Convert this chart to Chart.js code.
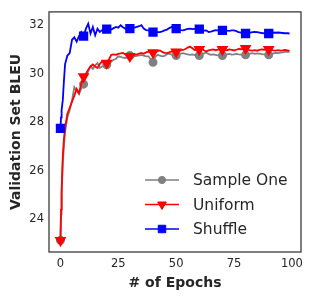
<!DOCTYPE html>
<html>
<head>
<meta charset="utf-8">
<script src="https://cdn.jsdelivr.net/npm/chart.js@4/dist/chart.umd.min.js"></script>
<style>
  html, body { margin: 0; padding: 0; background: #fff; }
  #wrap { width: 313px; height: 300px; }
</style>
</head>
<body>
<div id="wrap"><canvas id="bleuChart" width="313" height="300"></canvas></div>
<script>
// epochs (early part sampled finer)
var epochs = [0, 0.25, 0.5, 1, 1.5, 2, 3, 4, 5, 6, 7, 8, 9,
  10, 11, 12, 13, 14, 15, 16, 17, 18, 19, 20, 21, 22, 23, 24, 25, 26, 27, 28, 29,
  30, 31, 32, 33, 34, 35, 36, 37, 38, 39, 40, 41, 42, 43, 44, 45, 46, 47, 48, 49,
  50, 51, 52, 53, 54, 55, 56, 57, 58, 59, 60, 61, 62, 63, 64, 65, 66, 67, 68, 69,
  70, 71, 72, 73, 74, 75, 76, 77, 78, 79, 80, 81, 82, 83, 84, 85, 86, 87, 88, 89,
  90, 91, 92, 93, 94, 95, 96, 97, 98, 99];

var sampleOne = [23.13, 24.2, 25.0, 26.3, 27.0, 27.6, 28.2, 28.5, 28.9, 29.45, 29.3, 29.16, 29.4,
  29.57, 29.9, 30.1, 30.31, 30.2, 30.35, 30.44, 30.24, 30.3, 30.34, 30.37, 30.44, 30.5, 30.58, 30.62, 30.72, 30.7, 30.66, 30.65, 30.7,
  30.75, 30.7, 30.72, 30.74, 30.76, 30.78, 30.75, 30.72, 30.72, 30.6, 30.47, 30.7, 30.78, 30.75, 30.72, 30.74, 30.8, 30.83, 30.79, 30.76,
  30.75, 30.8, 30.83, 30.85, 30.82, 30.8, 30.78, 30.8, 30.77, 30.75, 30.75, 30.8, 30.84, 30.87, 30.82, 30.78, 30.8, 30.78, 30.76, 30.75,
  30.75, 30.78, 30.8, 30.82, 30.79, 30.8, 30.82, 30.8, 30.79, 30.78, 30.78, 30.8, 30.83, 30.85, 30.82, 30.84, 30.83, 30.81, 30.8, 30.79,
  30.78, 30.8, 30.84, 30.86, 30.85, 30.87, 30.88, 30.9, 30.91, 30.9];

var uniform = [23.13, 24.4, 25.2, 26.6, 27.3, 27.8, 28.35, 28.6, 28.85, 29.1, 29.37, 29.2, 29.6,
  29.88, 30.0, 30.17, 30.3, 30.38, 30.3, 30.24, 30.4, 30.51, 30.47, 30.44, 30.6, 30.78, 30.8, 30.78, 30.82, 30.84, 30.86, 30.8, 30.74,
  30.72, 30.76, 30.78, 30.8, 30.83, 30.86, 30.82, 30.88, 30.91, 30.9, 30.87, 30.9, 30.93, 30.96, 30.9, 30.86, 30.85, 30.88, 30.92, 30.9,
  30.9, 30.93, 30.97, 30.98, 31.02, 31.08, 31.12, 31.05, 30.98, 30.99, 31.0, 31.04, 30.97, 30.92, 30.96, 30.98, 31.0, 30.97, 30.99, 31.01,
  31.0, 30.98, 30.97, 31.0, 30.98, 30.96, 30.99, 31.02, 31.01, 31.03, 31.05, 31.0, 30.96, 30.95, 30.97, 30.95, 30.98, 31.0, 30.99, 31.01,
  31.0, 30.98, 30.96, 30.95, 30.97, 30.95, 30.96, 30.98, 30.96, 30.94];

var shuffle = [27.75, 28.2, 28.5, 28.9, 29.7, 30.4, 30.75, 30.85, 31.4, 31.5, 31.32, 31.55, 31.72,
  31.55, 31.86, 32.06, 31.66, 31.93, 31.59, 31.86, 31.72, 31.8, 31.79, 31.84, 31.86, 31.82, 31.88, 31.93, 31.9, 32.0, 31.92, 31.86, 31.84,
  31.86, 31.88, 31.9, 31.93, 31.96, 32.0, 31.86, 31.8, 31.79, 31.75, 31.72, 31.73, 31.72, 31.72, 31.75, 31.79, 31.82, 31.88, 31.93, 31.88,
  31.86, 31.84, 31.8, 31.79, 31.82, 31.85, 31.86, 31.84, 31.85, 31.86, 31.84, 31.8, 31.78, 31.79, 31.72, 31.74, 31.77, 31.8, 31.79, 31.78,
  31.79, 31.8, 31.78, 31.77, 31.79, 31.79, 31.76, 31.72, 31.7, 31.68, 31.66, 31.68, 31.7, 31.72, 31.73, 31.72, 31.7, 31.68, 31.67, 31.66,
  31.66, 31.68, 31.7, 31.69, 31.7, 31.69, 31.68, 31.67, 31.67, 31.66];

var xTicks = [0, 25, 50, 75, 100];
var yTicks = [24, 26, 28, 30, 32];

var font = "'DejaVu Sans', sans-serif";

function toPoints(values) {
    return values.map(function(v, i) { return { x: epochs[i], y: v }; });
}

// marker every 10 epochs
function markerSize(r) {
    return function(ctx) {
        return epochs[ctx.dataIndex] % 10 === 0 ? r : 0;
    };
}

var framePlugin = {
    id: 'frame',
    afterDatasetsDraw: function(chart) {
        var a = chart.chartArea, c = chart.ctx;
        c.save();
        c.strokeStyle = '#333333';
        c.lineWidth = 1.25;
        c.strokeRect(a.left, a.top, a.right - a.left, a.bottom - a.top);
        c.restore();
    }
};

// legend drawn inside the plot, bottom right
var innerLegend = {
    id: 'innerLegend',
    afterDraw: function(chart) {
        var c = chart.ctx;
        var x0 = 145, x1 = 179, tx = 193;
        var rows = [180, 204.5, 229];
        c.save();
        chart.data.datasets.forEach(function(ds, i) {
            var y = rows[i];
            c.strokeStyle = ds.borderColor;
            c.lineWidth = 1.5;
            c.beginPath();
            c.moveTo(x0, y);
            c.lineTo(x1, y);
            c.stroke();
            c.fillStyle = ds.borderColor;
            c.strokeStyle = ds.borderColor;
            c.lineWidth = 1;
            Chart.helpers.drawPoint(c, {
                pointStyle: ds.pointStyle,
                rotation: ds.pointRotation || 0,
                radius: ds.legendRadius,
                borderWidth: 1
            }, (x0 + x1) / 2, y);
            c.fillStyle = '#262626';
            c.font = '15.5px ' + font;
            c.textAlign = 'left';
            c.textBaseline = 'middle';
            c.fillText(ds.label, tx, y + 1);
        });
        c.restore();
    }
};

document.addEventListener('DOMContentLoaded', function() {
    var ctx = document.getElementById('bleuChart').getContext('2d');

    new Chart(ctx, {
        type: 'line',
        data: {
            datasets: [{
                label: 'Sample One',
                data: toPoints(sampleOne),
                borderColor: '#808080',
                backgroundColor: '#808080',
                pointStyle: 'circle',
                pointRadius: markerSize(3.6),
                legendRadius: 3.6,
                borderWidth: 1.8,
                order: 3
            }, {
                label: 'Uniform',
                data: toPoints(uniform),
                borderColor: '#ff0000',
                backgroundColor: '#ff0000',
                pointStyle: 'triangle',
                pointRotation: 180,
                pointRadius: markerSize(5),
                legendRadius: 5,
                borderWidth: 1.8,
                order: 2
            }, {
                label: 'Shuffle',
                data: toPoints(shuffle),
                borderColor: '#0000ff',
                backgroundColor: '#0000ff',
                pointStyle: 'rect',
                pointRadius: markerSize(5.3),
                legendRadius: 5.3,
                borderWidth: 1.8,
                order: 1
            }]
        },
        options: {
            responsive: false,
            animation: false,
            layout: { padding: { top: 8, right: 12, left: 0, bottom: 0 } },
            elements: {
                line: { tension: 0 },
                point: { borderWidth: 1, hoverRadius: 0 }
            },
            plugins: {
                legend: { display: false },
                tooltip: { enabled: false }
            },
            scales: {
                x: {
                    type: 'linear',
                    min: -4.95,
                    max: 103.95,
                    grid: { display: false, drawTicks: false },
                    border: { display: false },
                    afterBuildTicks: function(scale) {
                        scale.ticks = xTicks.map(function(v) { return { value: v }; });
                    },
                    afterFit: function(scale) { scale.height = 48; },
                    ticks: {
                        color: '#262626',
                        font: { family: font, size: 11.5 },
                        padding: 5,
                        maxRotation: 0
                    },
                    title: {
                        display: true,
                        text: '# of Epochs',
                        color: '#262626',
                        font: { family: font, size: 14, weight: 'bold' },
                        padding: { top: 0, bottom: 8 }
                    }
                },
                y: {
                    min: 22.65,
                    max: 32.55,
                    grid: { display: false, drawTicks: false },
                    border: { display: false },
                    afterBuildTicks: function(scale) {
                        scale.ticks = yTicks.map(function(v) { return { value: v }; });
                    },
                    afterFit: function(scale) { scale.width = 49; },
                    ticks: {
                        color: '#262626',
                        font: { family: font, size: 11.5 },
                        padding: 5
                    },
                    title: {
                        display: true,
                        text: 'Validation Set BLEU',
                        color: '#262626',
                        font: { family: font, size: 14, weight: 'bold' },
                        padding: { top: 7.5, bottom: 0 }
                    }
                }
            }
        },
        plugins: [framePlugin, innerLegend]
    });
});
</script>
</body>
</html>
